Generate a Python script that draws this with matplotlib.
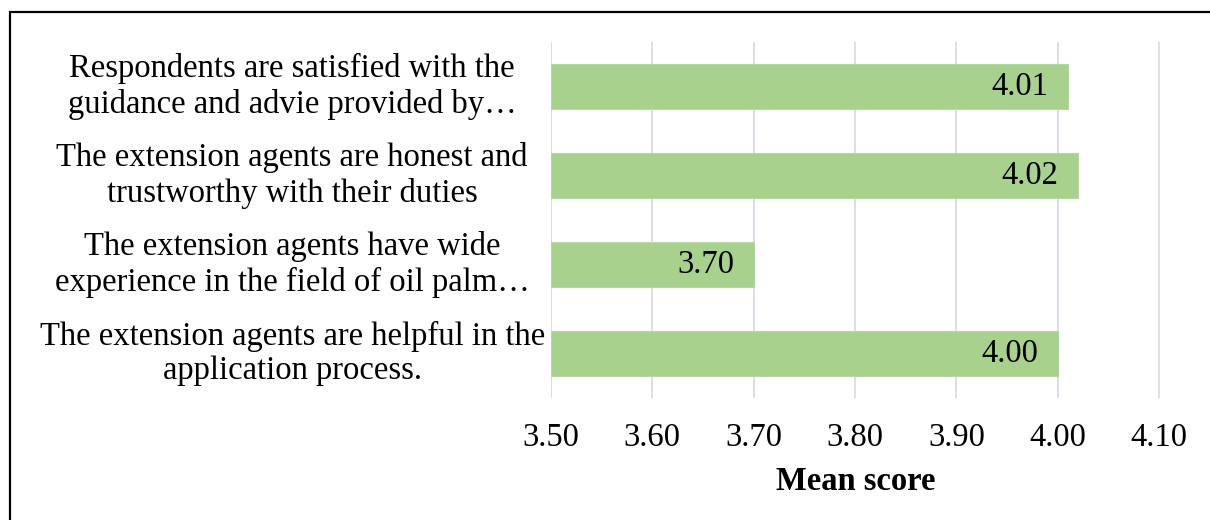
import matplotlib
matplotlib.use("Agg")
import matplotlib.pyplot as plt
from matplotlib.patches import Rectangle
from matplotlib.transforms import blended_transform_factory

categories = [
    "Respondents are satisfied with the\nguidance and advie provided by…",
    "The extension agents are honest and\ntrustworthy with their duties",
    "The extension agents have wide\nexperience in the field of oil palm…",
    "The extension agents are helpful in the\napplication process.",
]
values = [4.01, 4.02, 3.70, 4.00]
xticks = [3.50, 3.60, 3.70, 3.80, 3.90, 4.00, 4.10]
xlabel = "Mean score"

plt.rcParams['font.family'] = ['Liberation Serif', 'DejaVu Serif']
FS = 23.5

fig = plt.figure(figsize=(12.1, 5.2), dpi=100)
ax = fig.add_axes([551/1210, 1-398/520, (1160-551)/1210, (398-42)/520])

ypos = list(range(len(categories)))
ax.barh(ypos, [v - xticks[0] for v in values], left=xticks[0], height=0.5,
        color='#a9d18e', edgecolor='#b5d89d', linewidth=0.8, zorder=2)

ax.set_xlim(xticks[0], xticks[-1] + 0.001)
ax.set_ylim(-0.5, len(categories) - 0.5)
ax.invert_yaxis()
ax.set_xticks(xticks)
ax.set_xticklabels([f"{t:.2f}" for t in xticks], fontsize=FS)
ax.tick_params(axis='x', length=0, pad=18)
ax.set_yticks([])
for s in ax.spines.values():
    s.set_visible(False)
ax.grid(axis='x', color='#dadee6', linewidth=1.4, zorder=0)
ax.set_axisbelow(True)
ax.set_xlabel(xlabel, fontsize=FS, fontweight='bold', labelpad=9)

# category labels, centered blocks left of the plot
tr = blended_transform_factory(ax.transAxes, ax.transData)
for y, lab in zip(ypos, categories):
    ax.text(-0.425, y, lab, transform=tr, ha='center', va='center',
            multialignment='center', fontsize=FS, linespacing=1.18)

# value labels at inside end
for y, v in zip(ypos, values):
    ax.annotate(f"{v:.2f}", xy=(v, y), xytext=(-14, 0), textcoords='offset points',
                ha='right', va='center', fontsize=FS, color='black')

# figure frame (partially cropped in reference)
fig.add_artist(Rectangle((10/1210, -0.1), 1.2, 1.1 - 12/520, transform=fig.transFigure,
                         fill=False, edgecolor='black', linewidth=1.6))

fig.savefig("out.png", dpi=100)
